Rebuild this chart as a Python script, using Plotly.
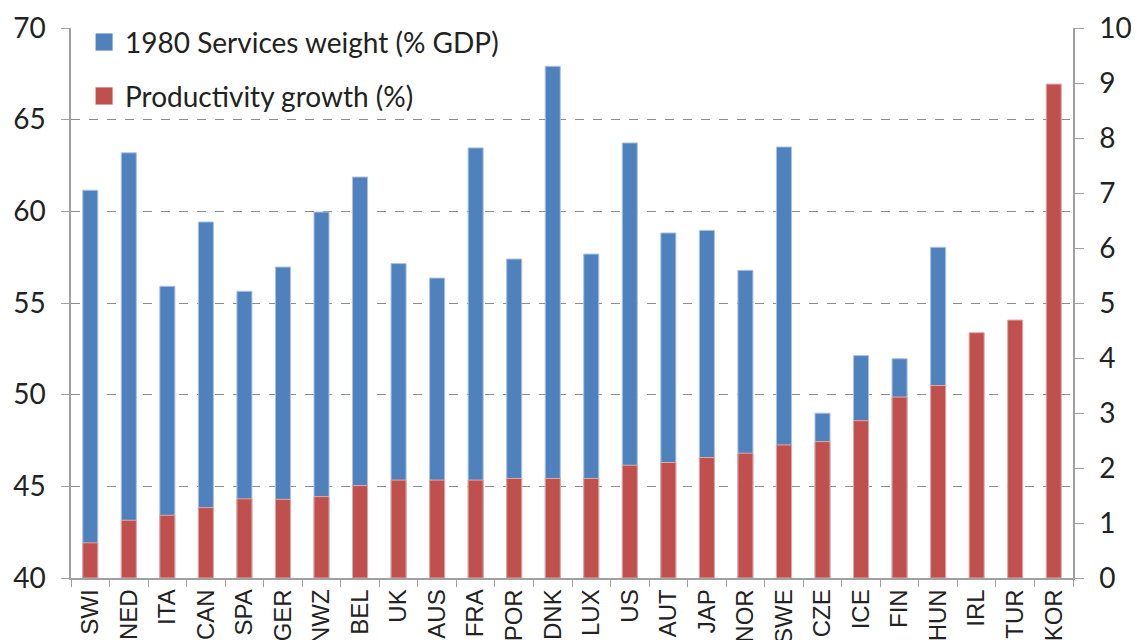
import plotly.graph_objects as go

countries = ["SWI", "NED", "ITA", "CAN", "SPA", "GER", "NWZ", "BEL", "UK", "AUS", "FRA", "POR", "DNK",
             "LUX", "US", "AUT", "JAP", "NOR", "SWE", "CZE", "ICE", "FIN", "HUN", "IRL", "TUR", "KOR"]
services_1980 = [61.15, 63.19, 55.91, 59.42, 55.64, 56.96, 59.96, 61.87, 57.15, 56.36, 63.46, 57.4, 67.91,
                 57.67, 63.73, 58.82, 58.96, 56.78, 63.51, 48.99, 52.13, 51.96, 58.04, None, None, None]
productivity = [0.64, 1.05, 1.14, 1.28, 1.44, 1.43, 1.48, 1.68, 1.78, 1.78, 1.78, 1.81, 1.81,
                1.81, 2.05, 2.10, 2.19, 2.27, 2.42, 2.48, 2.86, 3.29, 3.50, 4.46, 4.69, 8.98]
series_names = ["1980 Services weight (% GDP)", "Productivity growth (%)"]

left_ticks = [40, 45, 50, 55, 60, 65, 70]
right_ticks = list(range(0, 11))

BLUE = "#4F81BD"
RED = "#C0504D"
AXIS = "#A0A0A0"
TXT = "#222222"

fig = go.Figure()
fig.add_trace(go.Bar(
    x=countries, y=services_1980, name=series_names[0],
    marker=dict(color=BLUE, line=dict(color="#A9C2E3", width=1)),
    yaxis="y",
))
fig.add_trace(go.Bar(
    x=countries, y=productivity, name=series_names[1],
    marker=dict(color=RED, line=dict(color="#E0A9A7", width=1)),
    yaxis="y2",
))

# legend drawn inside the plot (top-left), as in the reference
legend_rows = [(series_names[0], BLUE, 0.9745), (series_names[1], RED, 0.8764)]
for name, col, yc in legend_rows:
    fig.add_shape(type="rect", xref="paper", yref="paper",
                  x0=0.024, x1=0.042, y0=yc - 0.0165, y1=yc + 0.0165,
                  fillcolor=col, line=dict(color="white", width=1), layer="above")
    fig.add_annotation(xref="paper", yref="paper", x=0.052, y=yc, text=name,
                       showarrow=False, xanchor="left", yanchor="middle",
                       font=dict(size=28, family="Lato", color=TXT))

fig.update_layout(
    width=1131, height=632,
    margin=dict(l=63, r=66, t=20, b=62),
    paper_bgcolor="white", plot_bgcolor="white",
    barmode="overlay", bargap=0.61,
    font=dict(family="Lato", color=TXT),
    showlegend=False,
    xaxis=dict(
        type="category", showline=True, linecolor=AXIS, linewidth=1.5,
        ticks="outside", tickson="boundaries", ticklen=7, tickcolor=AXIS,
        tickangle=-90, automargin=False,
        tickfont=dict(family="Liberation Sans", size=24, color=TXT),
        showgrid=False, range=[-0.5, 25.5],
    ),
    yaxis=dict(
        range=[40, 70], tickvals=left_ticks, ticktext=[str(v) for v in left_ticks],
        showline=True, linecolor=AXIS, linewidth=1.5,
        ticks="outside", ticklen=8, tickcolor=AXIS, ticklabelstandoff=10,
        showgrid=True, gridcolor="#8C8C8C", griddash="dash", gridwidth=1,
        zeroline=False, automargin=False,
        tickfont=dict(size=28, family="Lato", color=TXT),
    ),
    yaxis2=dict(
        range=[0, 10], tickvals=right_ticks, overlaying="y", side="right",
        showline=True, linecolor=AXIS, linewidth=1.5,
        ticks="outside", ticklen=9, tickcolor=AXIS, ticklabelstandoff=10,
        showgrid=False, zeroline=False, automargin=False,
        tickfont=dict(size=28, family="Lato", color=TXT),
    ),
)

fig.write_html("out.html")
